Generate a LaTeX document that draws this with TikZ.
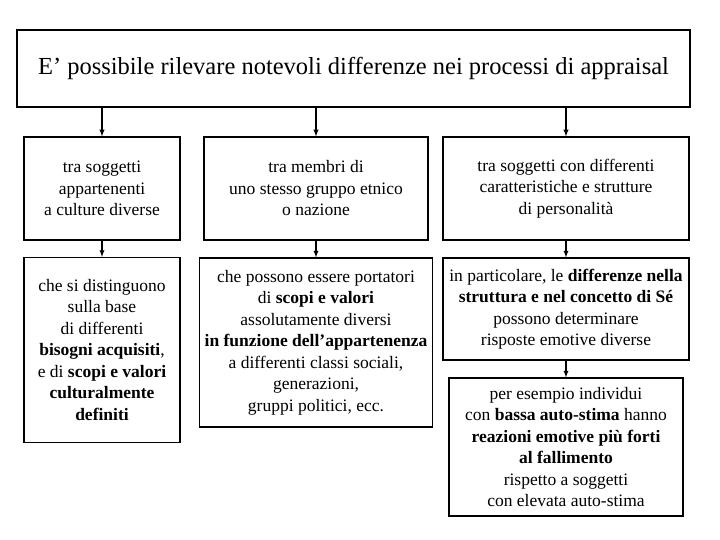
\documentclass[tikz,border=0pt]{standalone}
\usepackage{fontspec}
\setmainfont{Liberation Serif}
\usetikzlibrary{arrows,positioning}
\tikzstyle{box}=[rectangle, draw, line width=1.1pt, fill=white, text=black, align=center,
		inner sep=1pt, font=\fontsize{17.5}{21.5}\selectfont]
\tikzstyle{link}=[-latex, line width=1.3pt]
\begin{document}
\begin{tikzpicture}[x=1pt,y=-1pt]
  \useasboundingbox (0,0) rectangle (720,540);

    \node (Top) [box, minimum width=673pt, minimum height=77pt,
                 font=\fontsize{24.5}{28}\selectfont] at (353.5,68.5)
      {E’ possibile rilevare notevoli differenze nei processi di appraisal};

    \node (Cul) [box, minimum width=156pt, minimum height=103pt] at (102,188.5) {
      tra soggetti\\ appartenenti\\ a culture diverse};

    \node (Etn) [box, minimum width=224pt, minimum height=103pt] at (316,188.5) {
      tra membri di\\ uno stesso gruppo etnico\\ o nazione};

    \node (Per) [box, minimum width=246pt, minimum height=103pt] at (566,188.5) {
      tra soggetti con differenti\\ caratteristiche e strutture\\ di personalità};

    \node (CulB) [box, minimum width=156pt, minimum height=185pt] at (102,350) {
      che si distinguono\\ sulla base\\ di differenti\\ \textbf{bisogni acquisiti},\\
      e di \textbf{scopi e valori}\\ \textbf{culturalmente}\\ \textbf{definiti}};

    \node (EtnB) [box, minimum width=233pt, minimum height=169pt] at (316,342.5) {
      che possono essere portatori\\ di \textbf{scopi e valori}\\ assolutamente diversi\\
      \textbf{in funzione dell’appartenenza}\\ a differenti classi sociali,\\
      generazioni,\\ gruppi politici, ecc.};

    \node (PerB) [box, minimum width=246pt, minimum height=102pt] at (566,309) {
      in particolare, le \textbf{differenze nella}\\
      \textbf{struttura e nel concetto di Sé}\\ possono determinare\\
      risposte emotive diverse};

    \node (PerC) [box, minimum width=234pt, minimum height=138pt] at (566,447) {
      per esempio individui\\ con \textbf{bassa auto-stima} hanno\\
      \textbf{reazioni emotive più forti}\\ \textbf{al fallimento}\\
      rispetto a soggetti\\ con elevata auto-stima};

    \draw [link] (Top.south -| Cul.north) -- (Cul.north);
    \draw [link] (Top.south -| Etn.north) -- (Etn.north);
    \draw [link] (Top.south -| Per.north) -- (Per.north);
    \draw [link] (Cul.south) -- (CulB.north);
    \draw [link] (Etn.south) -- (EtnB.north);
    \draw [link] (Per.south) -- (PerB.north);
    \draw [link] (PerB.south) -- (PerC.north);

\end{tikzpicture}
\end{document}
